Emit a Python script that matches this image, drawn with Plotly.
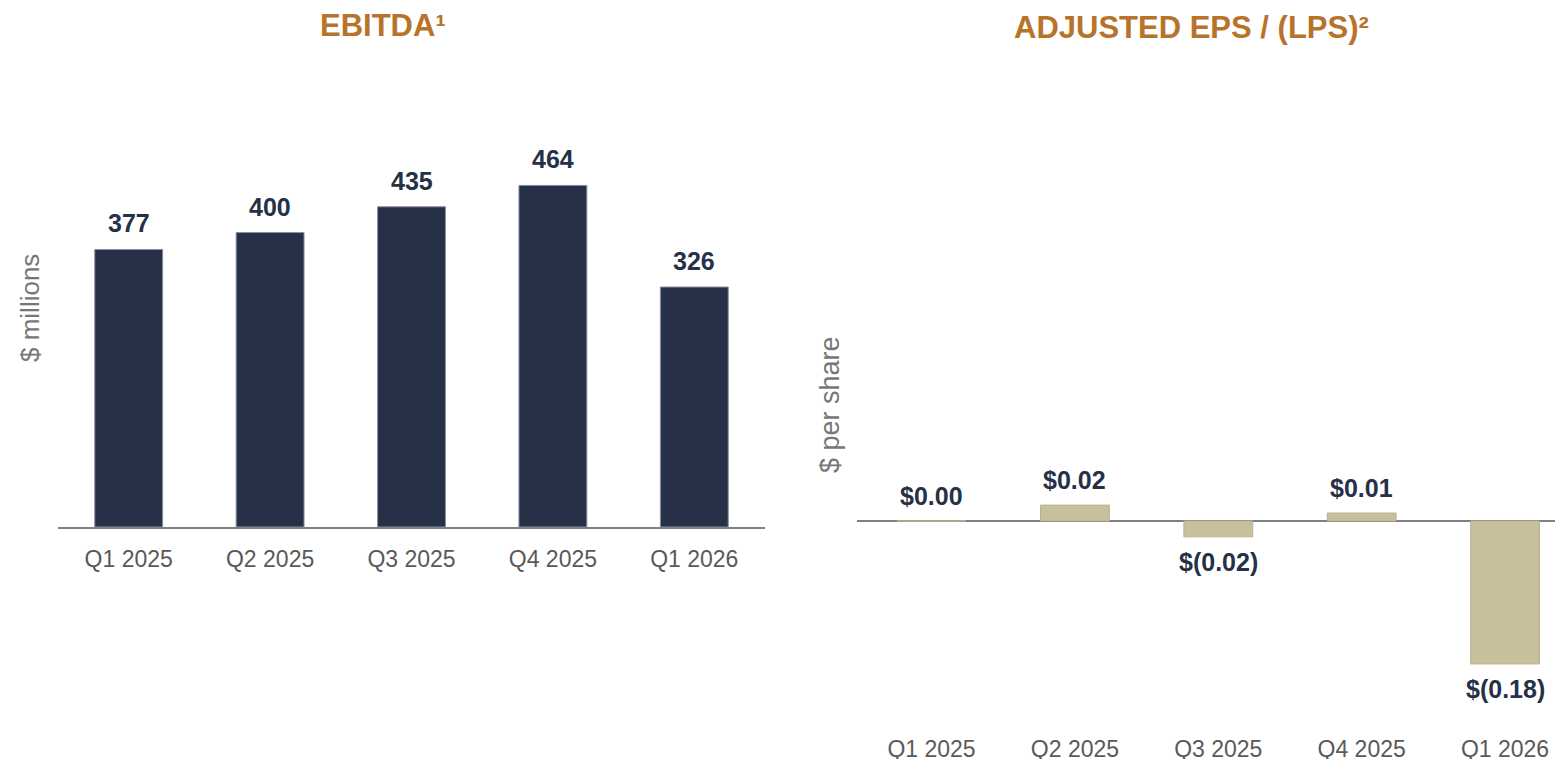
"""
EBITDA and adjusted EPS / (LPS) side-by-side bar charts.
"""

import plotly.graph_objects as go

W, H = 1563, 759
OFF = 8  # page body margin

quarters = ["Q1 2025", "Q2 2025", "Q3 2025", "Q4 2025", "Q1 2026"]
ebitda = [377, 400, 435, 464, 326]
eps = [0.00, 0.02, -0.02, 0.01, -0.18]

NAVY = '#263047'
TAN = '#C8C09C'
TITLE = '#B8732A'
GRAY_LINE = '#808080'
TICK = '#595959'
FONT = 'Liberation Sans, Arial, sans-serif'


def px_x(p):
    return (p - OFF) / W


def px_y(p):
    return 1 - (p - OFF) / H


def eps_label(v):
    if v < 0:
        return f"$({abs(v):.2f})"
    return f"${v:.2f}"


fig = go.Figure()

fig.add_trace(go.Bar(
    x=quarters, y=ebitda,
    marker=dict(color=NAVY, line=dict(color='#8790a3', width=1)),
    xaxis='x', yaxis='y',
    hoverinfo='x+y',
))

fig.add_trace(go.Bar(
    x=quarters, y=eps,
    marker=dict(color=TAN, line=dict(color='#b9b292', width=1)),
    xaxis='x2', yaxis='y2',
    hoverinfo='x+y',
))

annotations = []

# value labels
for q, v in zip(quarters, ebitda):
    annotations.append(dict(
        x=q, y=v, xref='x', yref='y', text=f"<b>{v}</b>",
        showarrow=False, xanchor='center', yanchor='middle', yshift=26,
        font=dict(family=FONT, size=25, color=NAVY),
    ))

for q, v in zip(quarters, eps):
    annotations.append(dict(
        x=q, y=v, xref='x2', yref='y2', text=f"<b>{eps_label(v)}</b>",
        showarrow=False, xanchor='center', yanchor='middle',
        yshift=25 if v >= 0 else -25,
        font=dict(family=FONT, size=25, color=NAVY),
    ))

# chart titles
annotations.append(dict(
    x=px_x(383), y=px_y(25), xref='paper', yref='paper',
    text="<b>EBITDA¹</b>", showarrow=False,
    xanchor='center', yanchor='middle',
    font=dict(family=FONT, size=31, color=TITLE),
))
annotations.append(dict(
    x=px_x(1191), y=px_y(28), xref='paper', yref='paper',
    text="<b>ADJUSTED EPS / (LPS)²</b>", showarrow=False,
    xanchor='center', yanchor='middle',
    font=dict(family=FONT, size=31, color=TITLE),
))

# axis titles
annotations.append(dict(
    x=px_x(30), y=px_y(308), xref='paper', yref='paper',
    text="$ millions", showarrow=False, textangle=-90,
    xanchor='center', yanchor='middle',
    font=dict(family=FONT, size=26, color='#777777'),
))
annotations.append(dict(
    x=px_x(830), y=px_y(405), xref='paper', yref='paper',
    text="$ per share", showarrow=False, textangle=-90,
    xanchor='center', yanchor='middle',
    font=dict(family=FONT, size=27, color='#777777'),
))

fig.update_layout(
    width=W, height=H,
    paper_bgcolor='white',
    plot_bgcolor='white',
    showlegend=False,
    bargap=0.52,
    margin=dict(l=0, r=0, t=0, b=0),
    font=dict(family=FONT),
    annotations=annotations,
    xaxis=dict(
        domain=[px_x(58), px_x(765)],
        range=[-0.5, 4.5],
        showline=True, linecolor=GRAY_LINE, linewidth=2,
        showgrid=False, zeroline=False,
        ticks='outside', ticklen=10, tickcolor='rgba(0,0,0,0)',
        tickfont=dict(family=FONT, size=23, color=TICK),
    ),
    yaxis=dict(
        domain=[px_y(527), px_y(89)],
        range=[0, 595],
        showline=False, showgrid=False, zeroline=False,
        showticklabels=False,
    ),
    xaxis2=dict(
        domain=[px_x(857), 1.0],
        range=[-0.52, 4.46],
        anchor='y2',
        showline=False, showgrid=False, zeroline=False,
        ticks='outside', ticklen=10, tickcolor='rgba(0,0,0,0)',
        tickfont=dict(family=FONT, size=23, color=TICK),
    ),
    yaxis2=dict(
        domain=[px_y(718), px_y(92)],
        range=[-0.248, 0.540],
        anchor='x2',
        showline=False, showgrid=False,
        zeroline=True, zerolinecolor=GRAY_LINE, zerolinewidth=2,
        showticklabels=False,
    ),
)

fig.write_html("out.html")
